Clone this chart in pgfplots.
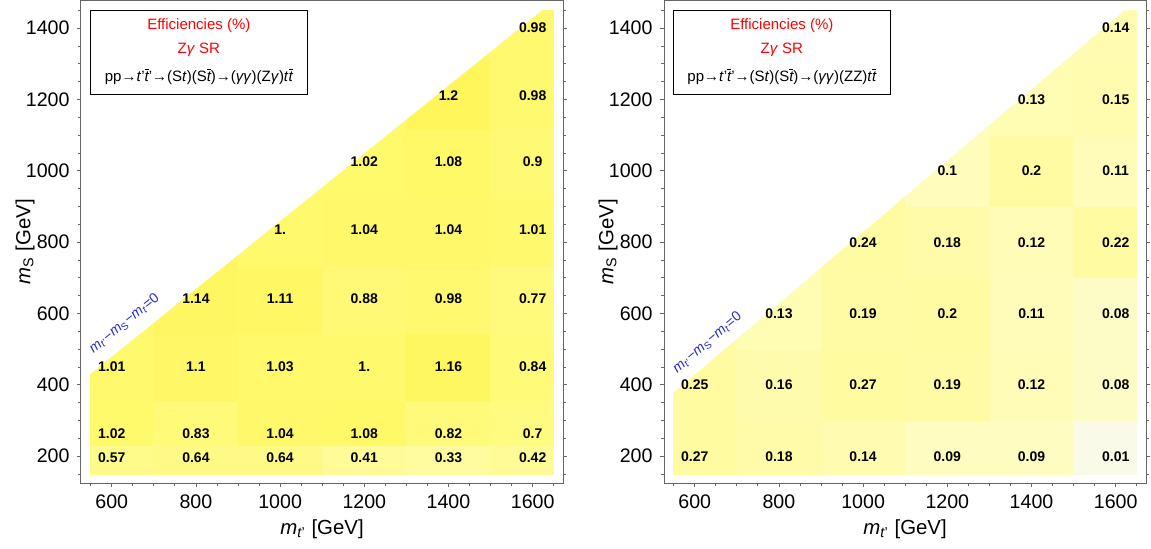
\documentclass[border=0pt]{standalone}
\usepackage{fontspec}
\setmainfont{Liberation Sans}
\usepackage{pgfplots}
\pgfplotsset{compat=1.18}
\newcommand\tb{\ensuremath{\overline{\mbox{\itshape t}}}}
\pgfplotsset{
  colormap={eff}{rgb255(0cm)=(250,250,238) rgb255(1cm)=(255,252,188) rgb255(2cm)=(255,251,163) rgb255(3.5cm)=(255,251,158) rgb255(4.5cm)=(255,251,148) rgb255(7cm)=(255,250,128) rgb255(10cm)=(255,249,110) rgb255(12cm)=(255,246,92)},
  effax/.style={
    scale only axis, width=241pt, height=241pt,
    xmin=527, xmax=1672, ymin=125, ymax=1476,
    xtick={600,800,...,1600}, ytick={200,400,...,1400},
    minor xtick={550,650,700,750,850,900,950,1050,1100,1150,1250,1300,1350,1450,1500,1550,1650},
    minor ytick={150,250,300,350,450,500,550,650,700,750,850,900,950,1050,1100,1150,1250,1300,1350,1450},
    tick align=outside, major tick length=2.2pt, minor tick length=1.3pt,
    axis line style={black!60, line width=0.5pt},
    tick style={black!60, line width=0.4pt},
    tick label style={font=\fontsize{9.8}{10}\selectfont, black},
    /pgf/number format/assume math mode=true, /pgf/number format/1000 sep={},
    scaled ticks=false,
    xlabel={\textit{m}\textsubscript{\textit{t}'} [GeV]},
    ylabel={\textit{m}\textsubscript{S} [GeV]},
    x label style={at={(axis description cs:0.5,-0.095)}, anchor=center, font=\fontsize{10.2}{11}\selectfont},
    y label style={at={(axis description cs:-0.116,0.5)}, anchor=center, font=\fontsize{10.2}{11}\selectfont},
    colormap name=eff, point meta min=0, point meta max=1.2,
    clip=false,
  },
  cells/.style={surf, shader=flat corner, mesh/rows=9, mesh/cols=7, point meta=explicit},
  mask/.style={sharp plot, fill=white, draw=none, forget plot, mesh/check=false},
  labs/.style={sharp plot, only marks, mark=none, nodes near coords, point meta=explicit symbolic, mesh/check=false,
    nodes near coords align={center},
    every node near coord/.append style={font=\bfseries\fontsize{7}{8}\selectfont, anchor=center, text=black}},
}
\begin{document}
\begin{tikzpicture}
\useasboundingbox (-40.5pt,-32.5pt) rectangle (535pt,241.5pt);
% ---------------- left ----------------
\begin{axis}[effax, at={(0pt,0pt)}, anchor=south west]
\addplot[cells] table[meta=c] {
x y c
550 150 0.57
700 150 0.64
900 150 0.64
1100 150 0.41
1300 150 0.33
1500 150 0.42
1650 150 0.42
550 230 1.02
700 230 0.83
900 230 1.04
1100 230 1.08
1300 230 0.82
1500 230 0.70
1650 230 0.70
550 355 1.01
700 355 1.10
900 355 1.03
1100 355 1.00
1300 355 1.16
1500 355 0.84
1650 355 0.84
550 545 1.01
700 545 1.14
900 545 1.11
1100 545 0.88
1300 545 0.98
1500 545 0.77
1650 545 0.77
550 735 1.14
700 735 1.14
900 735 1.00
1100 735 1.04
1300 735 1.04
1500 735 1.01
1650 735 1.01
550 925 1.00
700 925 1.00
900 925 1.00
1100 925 1.02
1300 925 1.08
1500 925 0.90
1650 925 0.90
550 1115 1.02
700 1115 1.02
900 1115 1.02
1100 1115 1.02
1300 1115 1.20
1500 1115 0.98
1650 1115 0.98
550 1305 1.20
700 1305 1.20
900 1305 1.20
1100 1305 1.20
1300 1305 1.20
1500 1305 0.98
1650 1305 0.98
550 1450 1.20
700 1450 1.20
900 1450 1.20
1100 1450 1.20
1300 1450 1.20
1500 1450 0.98
1650 1450 0.98
};
\addplot[mask] coordinates {(540,422.5) (1622,1450) (1622,1465) (540,1465)};
\addplot[labs] table[meta=l] {
x y l
600 197 0.57
800 197 0.64
1000 197 0.64
1200 197 0.41
1400 197 0.33
1600 197 0.42
600 264 1.02
800 264 0.83
1000 264 1.04
1200 264 1.08
1400 264 0.82
1600 264 0.7
600 452 1.01
800 452 1.1
1000 452 1.03
1200 452 1.
1400 452 1.16
1600 452 0.84
800 642 1.14
1000 642 1.11
1200 642 0.88
1400 642 0.98
1600 642 0.77
1000 835 1.
1200 835 1.04
1400 835 1.04
1600 835 1.01
1200 1025 1.02
1400 1025 1.08
1600 1025 0.9
1400 1212 1.2
1600 1212 0.98
1600 1400 0.98
};
\draw[black, line width=0.6pt, fill=white] (axis cs:550,1450) rectangle (axis cs:1065,1213);
\node[text=red, font=\fontsize{7.5}{9}\selectfont] at (axis cs:807,1406) {Efficiencies (\%)};
\node[text=red, font=\fontsize{7.5}{9}\selectfont] at (axis cs:807,1338) {Z\textit{γ} SR};
\node[font=\fontsize{7.5}{9}\selectfont] at (axis cs:807,1265) {pp→\textit{t}'\tb'→(S\textit{t})(S\tb)→(\textit{γγ})(Z\textit{γ})\textit{t}\tb};
\node[rotate=39, text={rgb,255:red,40;green,40;blue,210}, font=\fontsize{7}{8}\selectfont] at (axis cs:630,572) {\textit{m}\textsubscript{\textit{t}'}−\textit{m}\textsubscript{S}−\textit{m}\textsubscript{\textit{t}}=0};
\end{axis}
% ---------------- right ----------------
\begin{axis}[effax, at={(291.5pt,0pt)}, anchor=south west]
\addplot[cells, mesh/rows=8] table[meta=c] {
x y c
550 150 0.27
700 150 0.18
900 150 0.14
1100 150 0.09
1300 150 0.09
1500 150 0.01
1650 150 0.01
550 300 0.25
700 300 0.16
900 300 0.27
1100 300 0.19
1300 300 0.12
1500 300 0.08
1650 300 0.08
550 500 0.25
700 500 0.13
900 500 0.19
1100 500 0.20
1300 500 0.11
1500 500 0.08
1650 500 0.08
550 700 0.13
700 700 0.13
900 700 0.24
1100 700 0.18
1300 700 0.12
1500 700 0.22
1650 700 0.22
550 900 0.24
700 900 0.24
900 900 0.24
1100 900 0.10
1300 900 0.20
1500 900 0.11
1650 900 0.11
550 1100 0.10
700 1100 0.10
900 1100 0.10
1100 1100 0.10
1300 1100 0.13
1500 1100 0.15
1650 1100 0.15
550 1300 0.13
700 1300 0.13
900 1300 0.13
1100 1300 0.13
1300 1300 0.13
1500 1300 0.14
1650 1300 0.14
550 1450 0.13
700 1450 0.13
900 1450 0.13
1100 1450 0.13
1300 1450 0.13
1500 1450 0.14
1650 1450 0.14
};
\addplot[mask] coordinates {(540,369) (1621,1450) (1621,1465) (540,1465)};
\addplot[labs] table[meta=l] {
x y l
600 200 0.27
800 200 0.18
1000 200 0.14
1200 200 0.09
1400 200 0.09
1600 200 0.01
600 400 0.25
800 400 0.16
1000 400 0.27
1200 400 0.19
1400 400 0.12
1600 400 0.08
800 600 0.13
1000 600 0.19
1200 600 0.2
1400 600 0.11
1600 600 0.08
1000 800 0.24
1200 800 0.18
1400 800 0.12
1600 800 0.22
1200 1000 0.1
1400 1000 0.2
1600 1000 0.11
1400 1200 0.13
1600 1200 0.15
1600 1400 0.14
};
\draw[black, line width=0.6pt, fill=white] (axis cs:550,1450) rectangle (axis cs:1065,1213);
\node[text=red, font=\fontsize{7.5}{9}\selectfont] at (axis cs:807,1406) {Efficiencies (\%)};
\node[text=red, font=\fontsize{7.5}{9}\selectfont] at (axis cs:807,1338) {Z\textit{γ} SR};
\node[font=\fontsize{7.5}{9}\selectfont] at (axis cs:807,1265) {pp→\textit{t}'\tb'→(S\textit{t})(S\tb)→(\textit{γγ})(ZZ)\textit{t}\tb};
\node[rotate=40.5, text={rgb,255:red,40;green,40;blue,210}, font=\fontsize{7}{8}\selectfont] at (axis cs:630,518) {\textit{m}\textsubscript{\textit{t}'}−\textit{m}\textsubscript{S}−\textit{m}\textsubscript{\textit{t}}=0};
\end{axis}
\end{tikzpicture}
\end{document}
